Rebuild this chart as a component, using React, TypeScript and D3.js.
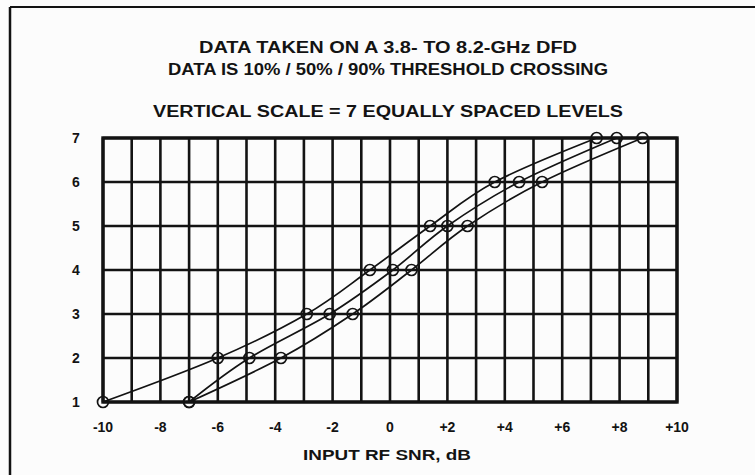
import { useEffect, useRef } from 'react';
import * as d3 from 'd3';

// levels on the vertical scale
const levels = [1, 2, 3, 4, 5, 6, 7];

// input SNR (dB) at which each level is crossed
const snr10 = [-10, -6, -2.9, -0.7, 1.4, 3.65, 7.2];
const snr50 = [-7, -4.9, -2.1, 0.1, 2.0, 4.5, 7.9];
const snr90 = [-7, -3.8, -1.3, 0.75, 2.7, 5.3, 8.8];

const xTicks = [-10, -8, -6, -4, -2, 0, 2, 4, 6, 8, 10];
const xTickLabels = ['-10', '-8', '-6', '-4', '-2', '0', '+2', '+4', '+6', '+8', '+10'];

const titleLines = [
  'DATA TAKEN ON A 3.8- TO 8.2-GHz DFD',
  'DATA IS 10% / 50% / 90% THRESHOLD CROSSING',
];
const subTitle = 'VERTICAL SCALE = 7 EQUALLY SPACED LEVELS';
const xLabel = 'INPUT RF SNR, dB';

export default function App() {
  const svgRef = useRef<SVGSVGElement>(null);

  useEffect(() => {
    if (!svgRef.current) return;
    document.body.style.margin = '0';

    const width = 755;
    const height = 475;
    const margin = { top: 138, right: 78, bottom: 73, left: 103 };
    const innerWidth = width - margin.left - margin.right;
    const innerHeight = height - margin.top - margin.bottom;

    const svg = d3.select(svgRef.current);
    svg.selectAll('*').remove();
    svg.attr('width', width).attr('height', height);

    const font = '"Liberation Sans", Arial, sans-serif';
    const ink = '#131313';

    svg.append('rect').attr('width', width).attr('height', height).attr('fill', '#fcfcfc');

    // page frame (scan edge)
    svg.append('line').attr('x1', 10).attr('x2', width).attr('y1', 7).attr('y2', 7)
      .attr('stroke', ink).attr('stroke-width', 2);
    svg.append('line').attr('x1', 10).attr('x2', 10).attr('y1', 7).attr('y2', height)
      .attr('stroke', ink).attr('stroke-width', 2.5);

    // titles
    const titleY = [53, 75];
    titleLines.forEach((t, i) => {
      svg.append('text')
        .attr('x', 388).attr('y', titleY[i])
        .attr('text-anchor', 'middle')
        .attr('font-family', font).attr('font-weight', 'bold').attr('font-size', 16)
        .attr('textLength', i === 0 ? 378 : 440).attr('lengthAdjust', 'spacingAndGlyphs')
        .attr('fill', ink)
        .text(t);
    });
    svg.append('text')
      .attr('x', 388).attr('y', 117)
      .attr('text-anchor', 'middle')
      .attr('font-family', font).attr('font-weight', 'bold').attr('font-size', 16)
      .attr('textLength', 470).attr('lengthAdjust', 'spacingAndGlyphs')
      .attr('fill', ink)
      .text(subTitle);

    const x = d3.scaleLinear().domain([-10, 10]).range([0, innerWidth]);
    const y = d3.scaleLinear().domain([1, 7]).range([innerHeight, 0]);

    const g = svg.append('g').attr('transform', `translate(${margin.left},${margin.top})`);

    // grid
    g.selectAll('.vgrid')
      .data(d3.range(-10, 11))
      .enter().append('line')
      .attr('x1', d => x(d)).attr('x2', d => x(d))
      .attr('y1', 0).attr('y2', innerHeight)
      .attr('stroke', ink).attr('stroke-width', 2.6);

    g.selectAll('.hgrid')
      .data(levels)
      .enter().append('line')
      .attr('x1', 0).attr('x2', innerWidth)
      .attr('y1', d => y(d)).attr('y2', d => y(d))
      .attr('stroke', ink).attr('stroke-width', 2.6);

    g.append('rect')
      .attr('width', innerWidth).attr('height', innerHeight)
      .attr('fill', 'none').attr('stroke', ink).attr('stroke-width', 3.4);

    // curves
    const series = [snr10, snr50, snr90];
    const line = d3.line<number>()
      .x(d => x(d))
      .y((_, i) => y(levels[i]))
      .curve(d3.curveMonotoneY);

    series.forEach(s => {
      g.append('path')
        .datum(s)
        .attr('d', line)
        .attr('fill', 'none')
        .attr('stroke', ink)
        .attr('stroke-width', 1.7);

      g.selectAll(null)
        .data(s)
        .enter().append('circle')
        .attr('cx', d => x(d))
        .attr('cy', (_, i) => y(levels[i]))
        .attr('r', 5.5)
        .attr('fill', 'none')
        .attr('stroke', ink)
        .attr('stroke-width', 1.7);
    });

    // y tick labels
    g.selectAll('.ylab')
      .data(levels)
      .enter().append('text')
      .attr('x', -27).attr('y', d => y(d) + 5)
      .attr('text-anchor', 'middle')
      .attr('font-family', font).attr('font-weight', 'bold').attr('font-size', 14)
      .attr('fill', ink)
      .text(d => d);

    // x tick labels
    g.selectAll('.xlab')
      .data(xTicks)
      .enter().append('text')
      .attr('x', d => x(d))
      .attr('y', innerHeight + 30)
      .attr('text-anchor', 'middle')
      .attr('font-family', font).attr('font-weight', 'bold').attr('font-size', 14)
      .attr('fill', ink)
      .text((_, i) => xTickLabels[i]);

    g.append('text')
      .attr('x', innerWidth / 2 - 3).attr('y', innerHeight + 58)
      .attr('text-anchor', 'middle')
      .attr('font-family', font).attr('font-weight', 'bold').attr('font-size', 14)
      .attr('textLength', 168).attr('lengthAdjust', 'spacingAndGlyphs')
      .attr('fill', ink)
      .text(xLabel);
  }, []);

  return (
    <div style={{ position: 'absolute', left: 0, top: 0 }}>
      <svg ref={svgRef} style={{ display: 'block' }}></svg>
    </div>
  );
}
